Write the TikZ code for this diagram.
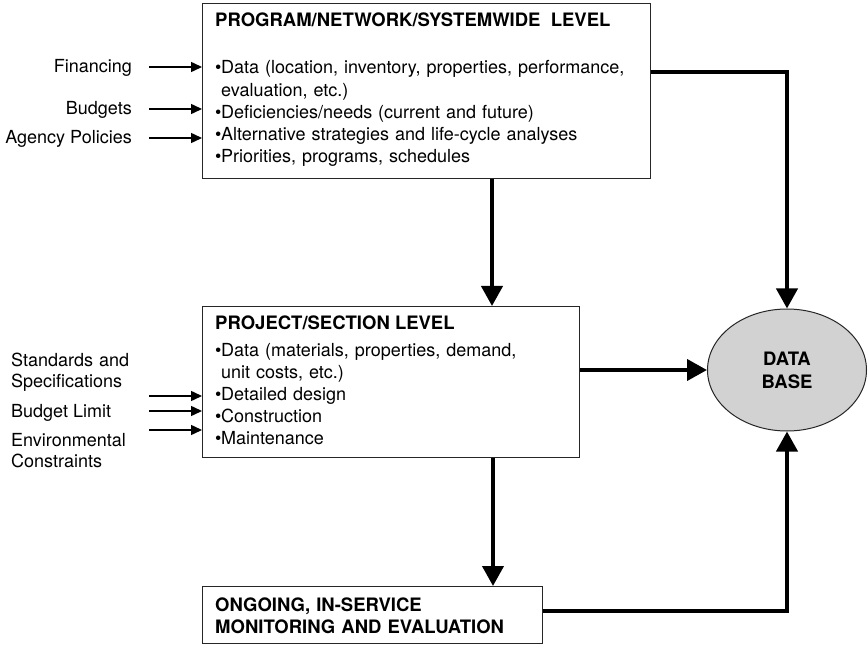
\documentclass[tikz,border=0pt]{standalone}
\usepackage{fontspec}
\setmainfont{TeX Gyre Heros}
\usetikzlibrary{arrows.meta,shapes.geometric}

\newcommand\bul{\makebox[6pt][l]{•}}
\newcommand\bsp{\hspace*{6pt}}

\tikzset{
  box/.style={draw=black!85, line width=1.3pt, rectangle, inner sep=0pt, anchor=north west},
  txt/.style={anchor=base west, inner sep=0pt, align=left, text width=#1,
              font=\fontsize{18}{22.2}\selectfont},
  txt/.default=440pt,
  ttl/.style={anchor=base west, inner sep=0pt, font=\fontsize{18.5}{22}\selectfont\bfseries},
  lbl/.style={inner sep=0pt, font=\fontsize{18}{21.5}\selectfont},
  inarrow/.style={line width=1.5pt, -{Triangle[length=11pt,width=10pt]}},
  flow/.style={line width=4pt, -{Triangle[length=20pt,width=21pt]}},
  db/.style={ellipse, draw=black!85, line width=1pt, fill=gray!35, inner sep=0pt,
             minimum width=159pt, minimum height=122pt, align=center,
             font=\fontsize{18.5}{23}\selectfont\bfseries}
}

\begin{document}
\begin{tikzpicture}[x=1pt,y=-1pt]
  \useasboundingbox (0,0) rectangle (868,647);

  % level boxes
  \node[box, minimum width=448pt, minimum height=175pt] (top) at (202,3) {};
  \node[box, minimum width=377pt, minimum height=151pt] (mid) at (202,306) {};
  \node[box, minimum width=340pt, minimum height=57pt] (bot) at (202,586) {};

  % database
  \node[db] (base) at (787,370) {DATA\\BASE};

  % box contents
  \node[ttl] (toptitle) at (215,27) {PROGRAM/NETWORK/SYSTEMWIDE\ \ LEVEL};
  \node[txt] (toplist) at (215,74) {\bul Data (location, inventory, properties, performance,\\
    \bsp evaluation, etc.)\\
    \bul Deficiencies/needs (current and future)\\
    \bul Alternative strategies and life-cycle analyses\\
    \bul Priorities, programs, schedules};

  \node[ttl] (midtitle) at (215,329) {PROJECT/SECTION LEVEL};
  \node[txt] (midlist) at (215,356) {\bul Data (materials, properties, demand,\\
    \bsp unit costs, etc.)\\
    \bul Detailed design\\
    \bul Construction\\
    \bul Maintenance};

  \node[ttl, align=left, text width=320pt, font=\fontsize{18.5}{22}\selectfont\bfseries]
    (bottitle) at (215,611) {ONGOING, IN-SERVICE\\MONITORING AND EVALUATION};

  % inputs to the program level
  \node[lbl, anchor=base east] (fin) at (132,73) {Financing};
  \node[lbl, anchor=base east] (bud) at (132,115) {Budgets};
  \node[lbl, anchor=base east] (pol) at (132,144) {Agency Policies};
  \coordinate (fin0) at (149,67);
  \coordinate (bud0) at (149,109);
  \coordinate (pol0) at (149,138);
  \draw[inarrow] (fin0) -- (fin0 -| top.west);
  \draw[inarrow] (bud0) -- (bud0 -| top.west);
  \draw[inarrow] (pol0) -- (pol0 -| top.west);

  % inputs to the project level
  \node[lbl, anchor=base west, align=left, text width=140pt] (std) at (11,366) {Standards and\\Specifications};
  \node[lbl, anchor=base west] (lim) at (11,417) {Budget Limit};
  \node[lbl, anchor=base west, align=left, text width=140pt] (env) at (11,446) {Environmental\\Constraints};
  \coordinate (std0) at (149,396);
  \coordinate (lim0) at (149,411);
  \coordinate (env0) at (149,430);
  \draw[inarrow] (std0) -- (std0 -| mid.west);
  \draw[inarrow] (lim0) -- (lim0 -| mid.west);
  \draw[inarrow] (env0) -- (env0 -| mid.west);

  % flow between levels and into the database
  \coordinate (topout) at (650,72);
  \coordinate (botout) at (542,611);
  \coordinate (col1) at (492,0);
  \coordinate (col2) at (493,0);
  \draw[flow] (topout -| top.east) -| (base.north);
  \draw[flow] (col1 |- top.south) -- (col1 |- mid.north);
  \draw[flow] (mid.east |- base.west) -- (base.west);
  \draw[flow] (col2 |- mid.south) -- (col2 |- bot.north);
  \draw[flow] (botout -| bot.east) -| (base.south);
\end{tikzpicture}
\end{document}
